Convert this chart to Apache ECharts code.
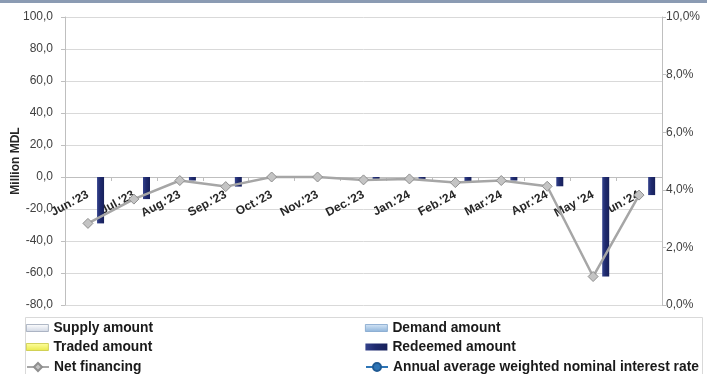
<!DOCTYPE html>
<html>
<head>
<meta charset="utf-8">
<script src="https://cdn.jsdelivr.net/npm/echarts@6/dist/echarts.min.js"></script>
<style>
  html, body { margin: 0; padding: 0; background: #ffffff; }
  #chart { width: 707px; height: 374px; }
</style>
</head>
<body>
<div id="chart"></div>
<script>
// Monthly categories
const months = ["Jun.'23", "Jul.'23", "Aug.'23", "Sep.'23", "Oct.'23", "Nov.'23", "Dec.'23",
                "Jan.'24", "Feb.'24", "Mar.'24", "Apr.'24", "May '24", "Jun.'24"];

// Amounts, million MDL
const supplyAmount   = [0, 0, 0, 0, 0, 0, 0, 0, 0, 0, 0, 0, 0];
const demandAmount   = [0, 0, 0, 0, 0, 0, 0, 0, 0, 0, 0, 0, 0];
const tradedAmount   = [0, 0, 0, 0, 0, 0, 0, 0, 0, 0, 0, 0, 0];
const redeemedAmount = [-29.0, -13.8, -2.2, -6.0, 0, 0, -1.8, -1.2, -3.5, -2.2, -5.8, -62.2, -11.3];
const netFinancing   = [-29.0, -13.8, -2.2, -6.0, 0, 0, -1.8, -1.2, -3.5, -2.2, -5.8, -62.2, -11.3];

// Annual average weighted nominal interest rate (no placements in the period)
const interestRate = [null, null, null, null, null, null, null, null, null, null, null, null, null];

// Axis scales
const leftTicks = { min: -80, max: 100, step: 20 };
const rightTicks = { min: 0, max: 0.10, step: 0.02 };

const FONT = "'Liberation Sans', Arial, sans-serif";
const AXIS_GREY = '#bfbfbf';
const GRID_GREY = '#d9d9d9';

const GRID = { left: 65, right: 45, top: 17, bottom: 69 };
const PLOT_HEIGHT = 374 - GRID.top - GRID.bottom;
// Category axis sits on the zero line of the left value axis
const zeroLift = PLOT_HEIGHT * (0 - leftTicks.min) / (leftTicks.max - leftTicks.min);

const chart = echarts.init(document.getElementById('chart'), null, { renderer: 'canvas' });

function vGrad(top, bottom) {
  return new echarts.graphic.LinearGradient(0, 0, 0, 1, [
    { offset: 0, color: top }, { offset: 1, color: bottom }
  ]);
}

const navyBar = new echarts.graphic.LinearGradient(0, 0, 1, 0, [
  { offset: 0, color: '#34428c' },
  { offset: 0.45, color: '#1f2a6e' },
  { offset: 1, color: '#17205a' }
]);

const barFills = {
  supply: vGrad('#ffffff', '#cfd6e3'),
  demand: vGrad('#d6e6f6', '#8db3da'),
  traded: vGrad('#ffffa0', '#e8e84a')
};

const legendText = { fontFamily: FONT, fontSize: 13.8, fontWeight: 'bold', color: '#1a1a1a', lineHeight: 16 };

function barSeries(name, data, color) {
  return {
    name: name,
    type: 'bar',
    yAxisIndex: 0,
    data: data,
    barWidth: 7,
    barGap: '20%',
    itemStyle: { color: color, borderWidth: 0 },
    z: 2
  };
}

function legendBar(name, border) {
  return { name: name, itemStyle: { borderColor: border, borderWidth: 0.8 } };
}

chart.setOption({
  animation: false,
  backgroundColor: '#ffffff',
  textStyle: { fontFamily: FONT },
  grid: Object.assign({ containLabel: false, outerBoundsMode: 'none' }, GRID),
  graphic: [
    { type: 'rect', left: 0, top: 0, shape: { width: 707, height: 3 }, style: { fill: '#8b9bb3' }, silent: true },
    { type: 'rect', shape: { x: 25.5, y: 317.5, width: 677, height: 60 },
      style: { fill: 'none', stroke: GRID_GREY, lineWidth: 1 }, silent: true }
  ],
  legend: [
    {
      left: 21, top: 315, orient: 'vertical', itemWidth: 22, itemHeight: 7, itemGap: 3,
      icon: 'rect', textStyle: legendText,
      data: [legendBar('Supply amount', '#9ca6b8'), legendBar('Traded amount', '#c8c840')]
    },
    {
      left: 21, top: 354, orient: 'vertical', itemWidth: 22, itemHeight: 10,
      textStyle: legendText,
      data: ['Net financing']
    },
    {
      left: 360, top: 315, orient: 'vertical', itemWidth: 22, itemHeight: 7, itemGap: 3,
      icon: 'rect', textStyle: legendText,
      data: [legendBar('Demand amount', '#7fa3cc'), 'Redeemed amount']
    },
    {
      left: 360, top: 354, orient: 'vertical', itemWidth: 22, itemHeight: 10,
      textStyle: legendText,
      data: ['Annual average weighted nominal interest rate']
    }
  ],
  xAxis: {
    type: 'category',
    data: months,
    position: 'bottom',
    offset: -zeroLift,
    axisLine: { onZero: false, lineStyle: { color: AXIS_GREY, width: 1 } },
    axisTick: { show: true, length: 4, lineStyle: { color: AXIS_GREY } },
    axisLabel: {
      interval: 0, rotate: 28, margin: 17,
      fontFamily: FONT, fontSize: 12, fontWeight: 'bold', color: '#262626'
    },
    splitLine: { show: false }
  },
  yAxis: [
    {
      type: 'value',
      position: 'left',
      min: leftTicks.min, max: leftTicks.max, interval: leftTicks.step,
      name: 'Million MDL',
      nameLocation: 'middle',
      nameGap: 43,
      nameMoveOverlap: false,
      nameTextStyle: { fontFamily: FONT, fontSize: 12, fontWeight: 'bold', color: '#262626' },
      axisLine: { show: true, lineStyle: { color: AXIS_GREY } },
      axisTick: { show: true, length: 4, lineStyle: { color: AXIS_GREY } },
      axisLabel: {
        margin: 12, fontFamily: FONT, fontSize: 12, color: '#404040',
        formatter: v => v.toFixed(1).replace('.', ',')
      },
      splitLine: { show: true, lineStyle: { color: GRID_GREY, width: 1 } }
    },
    {
      type: 'value',
      position: 'right',
      min: rightTicks.min, max: rightTicks.max, interval: rightTicks.step,
      axisLine: { show: true, lineStyle: { color: AXIS_GREY } },
      axisTick: { show: true, length: 4, lineStyle: { color: AXIS_GREY } },
      axisLabel: {
        margin: 4, fontFamily: FONT, fontSize: 12, color: '#404040',
        formatter: v => (v * 100).toFixed(1).replace('.', ',') + '%'
      },
      splitLine: { show: false }
    }
  ],
  series: [
    barSeries('Supply amount', supplyAmount, barFills.supply),
    barSeries('Demand amount', demandAmount, barFills.demand),
    barSeries('Traded amount', tradedAmount, barFills.traded),
    barSeries('Redeemed amount', redeemedAmount, navyBar),
    {
      name: 'Net financing',
      type: 'line',
      yAxisIndex: 0,
      data: netFinancing,
      symbol: 'diamond',
      symbolSize: 10,
      lineStyle: { color: '#a6a6a6', width: 2.5 },
      itemStyle: { color: '#c4c4c4', borderColor: '#8f8f8f', borderWidth: 1 },
      z: 5
    },
    {
      name: 'Annual average weighted nominal interest rate',
      type: 'line',
      yAxisIndex: 1,
      data: interestRate,
      symbol: 'circle',
      symbolSize: 7,
      lineStyle: { color: '#2e75b6', width: 2.5 },
      itemStyle: { color: '#2e75b6', borderColor: '#1f5a93', borderWidth: 1 },
      z: 6
    }
  ]
});
</script>
</body>
</html>
